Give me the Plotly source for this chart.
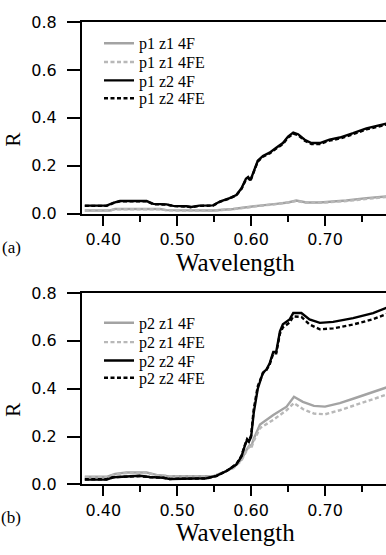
import plotly.graph_objects as go

# ---------------- data ----------------
# Panel (a): p1
a_z2_4F_x = [0.375, 0.4045, 0.4135, 0.4225, 0.4586, 0.4676, 0.4856, 0.4946, 0.5126, 0.519, 0.530, 0.5486,
             0.5577, 0.571, 0.580, 0.587, 0.593, 0.596, 0.599, 0.6027, 0.609, 0.616, 0.625, 0.634, 0.643,
             0.650, 0.657, 0.6635, 0.6725, 0.6815, 0.693, 0.706, 0.720, 0.738, 0.756, 0.783]
a_z2_4F_y = [0.034, 0.034, 0.045, 0.053, 0.053, 0.041, 0.039, 0.033, 0.031, 0.028, 0.034, 0.035,
             0.051, 0.065, 0.078, 0.106, 0.146, 0.153, 0.139, 0.173, 0.221, 0.241, 0.255, 0.275, 0.295,
             0.322, 0.339, 0.332, 0.309, 0.295, 0.295, 0.309, 0.318, 0.336, 0.356, 0.376]
a_z2_4FE_y = [0.033, 0.033, 0.044, 0.052, 0.052, 0.040, 0.038, 0.032, 0.030, 0.027, 0.033, 0.034,
              0.050, 0.064, 0.077, 0.104, 0.143, 0.150, 0.137, 0.170, 0.218, 0.238, 0.252, 0.272, 0.291,
              0.318, 0.334, 0.328, 0.305, 0.291, 0.291, 0.305, 0.314, 0.332, 0.352, 0.372]
a_z1_x = [0.375, 0.409, 0.416, 0.4766, 0.4856, 0.5486, 0.5757, 0.5937, 0.6117, 0.634, 0.650, 0.661,
          0.6748, 0.693, 0.7288, 0.756, 0.783]
a_z1_4F_y = [0.0135, 0.0135, 0.020, 0.020, 0.015, 0.0135, 0.020, 0.028, 0.034, 0.041, 0.047, 0.055,
             0.047, 0.047, 0.055, 0.065, 0.072]
a_z1_4FE_y = [0.013, 0.013, 0.019, 0.019, 0.014, 0.013, 0.019, 0.027, 0.033, 0.040, 0.046, 0.053,
              0.046, 0.046, 0.053, 0.063, 0.070]

# Panel (b): p2
b_z2_x = [0.375, 0.4045, 0.4135, 0.4315, 0.4495, 0.463, 0.481, 0.490, 0.530, 0.5396, 0.553, 0.5667,
          0.580, 0.587, 0.591, 0.5946, 0.597, 0.600, 0.6036, 0.609, 0.616, 0.6207, 0.625, 0.630,
          0.634, 0.639, 0.643, 0.652, 0.657, 0.668, 0.679, 0.693, 0.711, 0.738, 0.765, 0.783]
b_z2_4F_y = [0.020, 0.020, 0.030, 0.034, 0.036, 0.031, 0.028, 0.023, 0.023, 0.026, 0.036, 0.056,
             0.083, 0.117, 0.157, 0.187, 0.178, 0.198, 0.300, 0.400, 0.467, 0.480, 0.505, 0.554,
             0.554, 0.640, 0.669, 0.689, 0.716, 0.716, 0.689, 0.675, 0.679, 0.695, 0.716, 0.738]
b_z2_4FE_y = [0.022, 0.022, 0.030, 0.033, 0.035, 0.030, 0.028, 0.023, 0.023, 0.025, 0.035, 0.056,
              0.085, 0.120, 0.160, 0.190, 0.182, 0.205, 0.315, 0.410, 0.465, 0.478, 0.500, 0.548,
              0.548, 0.630, 0.656, 0.676, 0.702, 0.700, 0.668, 0.648, 0.652, 0.668, 0.690, 0.712]
b_z1_x = [0.375, 0.4045, 0.416, 0.4315, 0.4586, 0.472, 0.4856, 0.5036, 0.5486, 0.562, 0.5757, 0.587,
          0.5937, 0.598, 0.600, 0.6036, 0.612, 0.630, 0.648, 0.658, 0.670, 0.685, 0.700, 0.720,
          0.740, 0.760, 0.783]
b_z1_4F_y = [0.032, 0.032, 0.044, 0.050, 0.050, 0.040, 0.036, 0.034, 0.034, 0.050, 0.070, 0.104,
             0.144, 0.164, 0.157, 0.191, 0.250, 0.290, 0.325, 0.366, 0.345, 0.328, 0.325, 0.340,
             0.360, 0.380, 0.405]
b_z1_4FE_y = [0.030, 0.030, 0.042, 0.048, 0.048, 0.039, 0.035, 0.033, 0.033, 0.049, 0.068, 0.100,
              0.140, 0.158, 0.150, 0.182, 0.235, 0.270, 0.310, 0.340, 0.315, 0.296, 0.293, 0.310,
              0.330, 0.350, 0.375]

x_tick_vals = [0.40, 0.50, 0.60, 0.70]
x_tick_text = ["0.40", "0.50", "0.60", "0.70"]
y_tick_vals = [0.0, 0.2, 0.4, 0.6, 0.8]
y_tick_text = ["0.0", "0.2", "0.4", "0.6", "0.8"]

# ---------------- styles ----------------
GRAY = "#a3a3a3"
LGRAY = "#b8b8b8"
DASH = "4px,2.5px"
W = 2.4
SERIF = "Liberation Serif, Times New Roman, serif"
SANS = "DejaVu Sans, sans-serif"

H = 555.0
Wd = 386.0

fig = go.Figure()

# one legend per entry so rows can sit as tightly as in the reference
legend_rows_px = [35.5, 55, 74, 92.5, 325, 345, 364, 382]
legend_names = ["legend"] + ["legend%d" % i for i in range(2, 9)]

def add(x, y, name, color, dash, xa, ya, idx):
    fig.add_trace(go.Scatter(x=x, y=y, name=name, mode="lines", showlegend=True,
                             line=dict(color=color, width=W, dash=dash),
                             xaxis=xa, yaxis=ya, legend=legend_names[idx]))

add(a_z1_x, a_z1_4F_y, "p1 z1 4F", GRAY, "solid", "x", "y", 0)
add(a_z1_x, a_z1_4FE_y, "p1 z1 4FE", LGRAY, DASH, "x", "y", 1)
add(a_z2_4F_x, a_z2_4F_y, "p1 z2 4F", "black", "solid", "x", "y", 2)
add(a_z2_4F_x, a_z2_4FE_y, "p1 z2 4FE", "black", DASH, "x", "y", 3)

add(b_z1_x, b_z1_4F_y, "p2 z1 4F", GRAY, "solid", "x2", "y2", 4)
add(b_z1_x, b_z1_4FE_y, "p2 z1 4FE", LGRAY, DASH, "x2", "y2", 5)
add(b_z2_x, b_z2_4F_y, "p2 z2 4F", "black", "solid", "x2", "y2", 6)
add(b_z2_x, b_z2_4FE_y, "p2 z2 4FE", "black", DASH, "x2", "y2", 7)

xdom = [82 / Wd, 1.0]
ydom_a = [1 - 212 / H, 1 - 13.5 / H]
ydom_b = [1 - 492.3 / H, 1 - 294 / H]

xaxis_common = dict(range=[0.3712, 0.7825], domain=xdom, tickvals=x_tick_vals, ticktext=x_tick_text,
                    ticks="outside", ticklen=10, tickwidth=2, tickcolor="black",
                    showline=True, linewidth=2, linecolor="black", mirror=True,
                    showgrid=False, zeroline=False, ticklabelstandoff=0,
                    tickfont=dict(family=SANS, size=16, color="black"),
                    minor=dict(tickvals=[0.45, 0.55, 0.65, 0.75], ticks="outside", ticklen=6,
                               tickwidth=2, tickcolor="black", showgrid=False))
yaxis_common = dict(range=[0, 0.8], tickvals=y_tick_vals, ticktext=y_tick_text,
                    ticks="outside", ticklen=13, tickwidth=2, tickcolor="black",
                    showline=True, linewidth=2, linecolor="black", mirror=False,
                    showgrid=False, zeroline=False, ticklabelstandoff=7,
                    tickfont=dict(family=SANS, size=16, color="black"))

legends = {}
for name, ypx in zip(legend_names, legend_rows_px):
    legends[name] = dict(font=dict(family=SERIF, size=16, color="black"), bgcolor="rgba(0,0,0,0)",
                         x=99 / Wd, y=1 - ypx / H, xanchor="left", yanchor="middle",
                         borderwidth=0, visible=True)

def ann(text, x, y, size, angle=0):
    return dict(text=text, x=x / Wd, y=1 - y / H, xref="paper", yref="paper",
                xanchor="center", yanchor="middle", textangle=angle,
                showarrow=False, font=dict(family=SERIF, size=size, color="black"))

fig.update_layout(
    width=386, height=555, margin=dict(l=0, r=0, t=0, b=0),
    showlegend=True,
    paper_bgcolor="white", plot_bgcolor="white",
    xaxis=dict(**xaxis_common, anchor="y"),
    yaxis=dict(**yaxis_common, domain=ydom_a, anchor="x"),
    xaxis2=dict(**xaxis_common, anchor="y2"),
    yaxis2=dict(**yaxis_common, domain=ydom_b, anchor="x2"),
    annotations=[
        ann("Wavelength", 236, 262, 25),
        ann("Wavelength", 236, 542, 25),
        ann("R", 13, 135, 21, -90),
        ann("R", 13, 415, 21, -90),
        ann("(a)", 11, 247, 17),
        ann("(b)", 11, 527, 17),
    ],
    **legends,
)

fig.write_html("out.html")
